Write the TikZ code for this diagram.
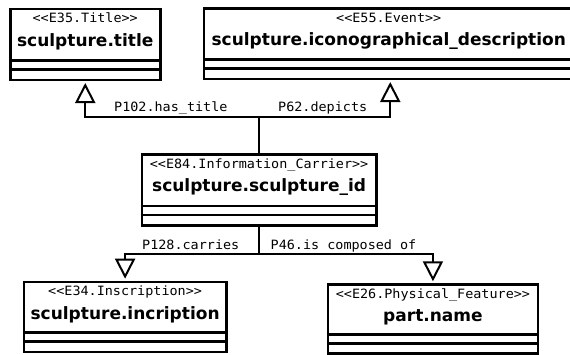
\documentclass[tikz,border=0pt]{standalone}
\usepackage{fontspec}
\usetikzlibrary{arrows.meta}
\newfontfamily\titlefont{DejaVu Sans}
\newfontfamily\labfont{DejaVu Sans Mono}[FakeStretch=1.05]
\tikzset{
  umlbox/.style={draw=black, line width=2.5pt, rectangle, inner sep=0pt, fill=white},
  umlline/.style={draw=black, line width=2.5pt},
  stereo/.style={inner sep=0pt, anchor=base, font=\labfont\fontsize{12.8}{15}\selectfont},
  ttl/.style={inner sep=0pt, anchor=base, font=\titlefont\bfseries\fontsize{17}{20}\selectfont},
  conn/.style={draw=black, line width=2pt},
  gen/.style={conn, -{Triangle[open, length=20pt, width=20pt]}, shorten >=2pt},
  lab/.style={inner sep=0pt, anchor=base west, font=\labfont\fontsize{12.8}{15}\selectfont}
}
\newcommand{\UmlBox}[7]{%
  \node[umlbox, minimum width=#4pt, minimum height=#5pt+18pt, anchor=north west] (#1) at (#2,#3) {};
  \draw[umlline] ([yshift=-#5pt]#1.north west) -- ([yshift=-#5pt]#1.north east);
  \draw[umlline] ([yshift=-#5pt-9pt]#1.north west) -- ([yshift=-#5pt-9pt]#1.north east);
  \node[stereo] (#1s) at ([yshift=-15pt]#1.north) {#6};
  \node[ttl] (#1t) at ([yshift=-38.5pt]#1.north) {#7};
}
\begin{document}
\begin{tikzpicture}[x=1pt, y=-1pt]
\useasboundingbox (0,0) rectangle (570,354);
\UmlBox{b1}{9}{7.5}{150}{53}{<{}<E35.Title>{}>}{sculpture.title}
\UmlBox{b2}{202.5}{7}{370}{52.5}{<{}<E55.Event>{}>}{sculpture.iconographical\_description}
\UmlBox{c}{140.7}{153.3}{234.3}{52.7}{<{}<E84.Information\_Carrier>{}>}{sculpture.sculpture\_id}
\UmlBox{b3}{22.7}{280.7}{202.3}{52}{<{}<E34.Inscription>{}>}{sculpture.incription}
\UmlBox{b4}{326.7}{283.3}{210}{51}{<{}<E26.Physical\_Feature>{}>}{part.name}
\coordinate (jt) at ([yshift=36.5pt]c.north);
\coordinate (jb) at ([yshift=-27.75pt]c.south);
\draw[conn] (c.north) -- (jt);
\draw[gen] (jt) -| (b1.south);
\draw[gen] (jt) -| ([xshift=1.5pt]b2.south);
\draw[conn] (c.south) -- (jb);
\draw[gen] (jb) -| (b3.north);
\draw[gen] (jb) -| (b4.north);
\node[lab] (l1) at (114,111) {P102.has\_title};
\node[lab] (l2) at (278,111) {P62.depicts};
\node[lab] (l3) at (142,249) {P128.carries};
\node[lab] (l4) at (270.5,249) {P46.is composed of};
\end{tikzpicture}
\end{document}
